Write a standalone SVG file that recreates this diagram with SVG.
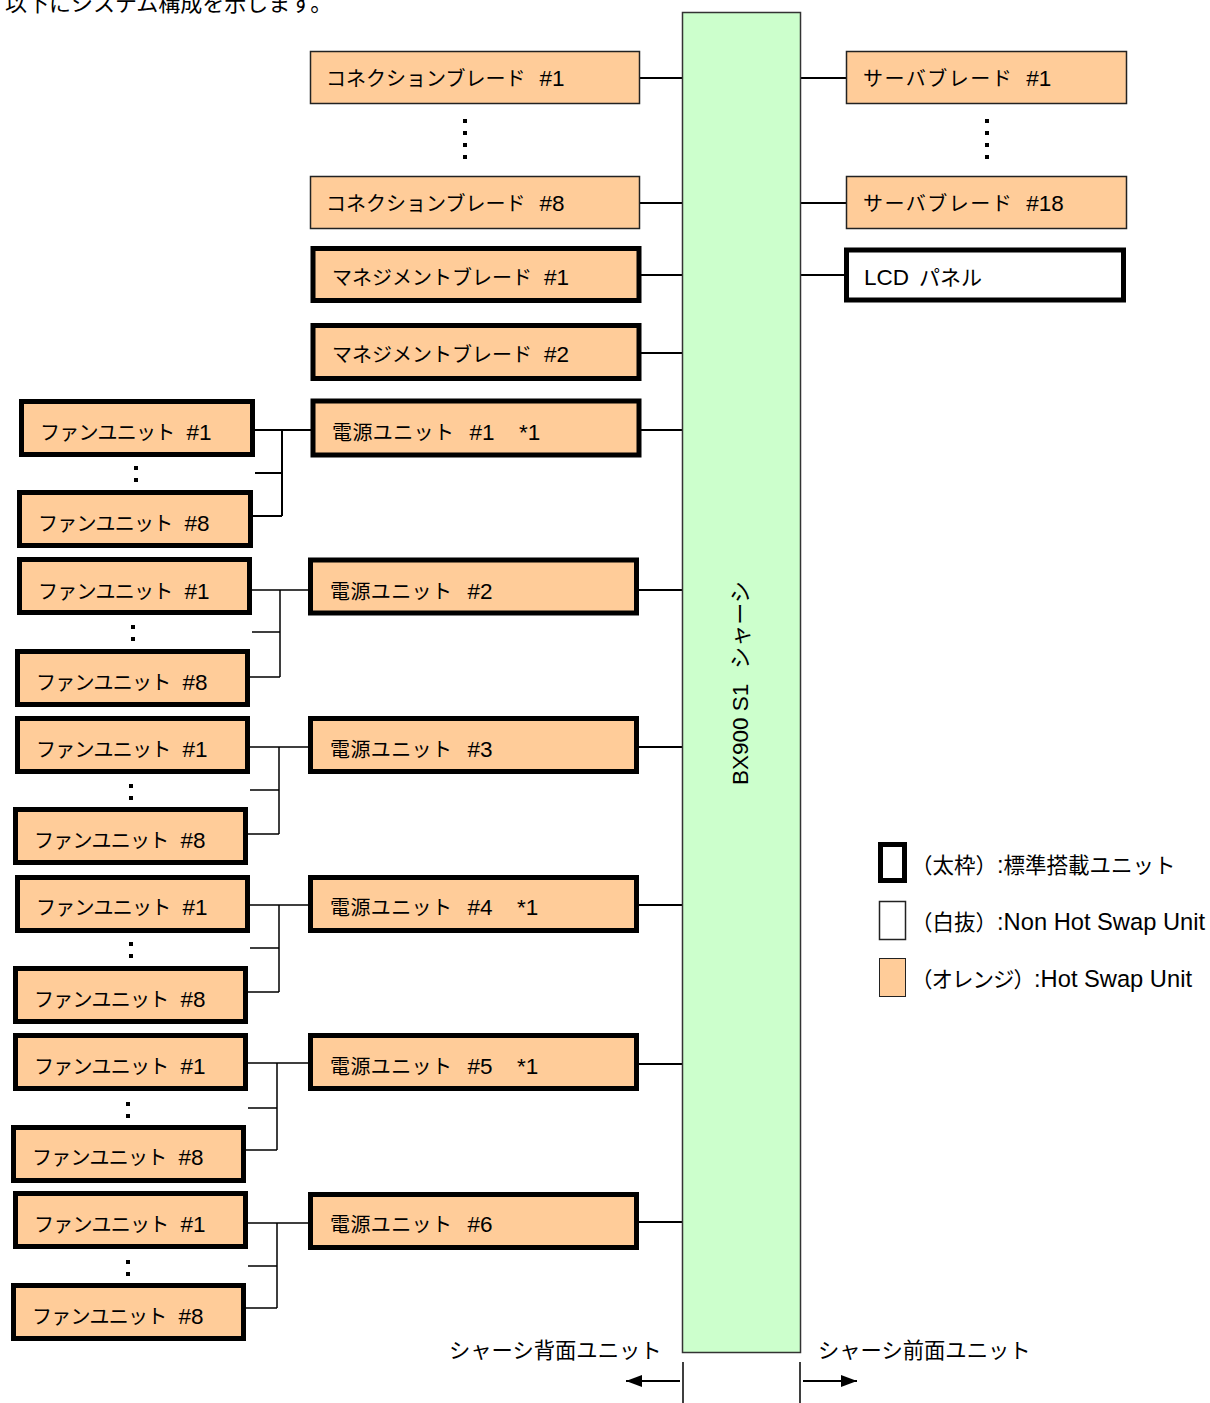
<svg xmlns="http://www.w3.org/2000/svg" width="1210" height="1403" viewBox="0 0 1210 1403">
<defs>
<style>
text{font-family:"Liberation Sans","Noto Sans CJK JP",sans-serif;font-size:22.5px;fill:#000}
.j{font-size:20px}
.f{font-size:20px;letter-spacing:-0.8px}
.s{font-size:20px;letter-spacing:1.5px}
.p{font-size:20px;letter-spacing:0.4px}
.t{font-size:22px}
.lg{font-size:23.7px}
.lj{font-size:21.5px}
.bl{font-size:21.3px}
.thin{fill:#ffcc99;stroke:#222;stroke-width:1.5}
.thick{fill:#ffcc99;stroke:#000;stroke-width:5}
.white{fill:#fff;stroke:#000;stroke-width:5}
.ln{stroke:#000;stroke-width:2;fill:none}
.ln1{stroke:#000;stroke-width:1.5;fill:none}
.dots{stroke:#000;stroke-width:4;stroke-dasharray:4 8;fill:none}
</style>
<marker id="ah2" viewBox="0 0 16 12" refX="16" refY="6" markerWidth="16" markerHeight="12" markerUnits="userSpaceOnUse" orient="auto">
<path d="M0,0 L16,6 L0,12 z" fill="#000"/>
</marker>
</defs>
<rect width="1210" height="1403" fill="#fff"/>
<text class="t" x="5" y="11">以下にシステム構成を示します。</text>

<g id="connectors">
<path class="ln" d="M639,78H682M639,203H682M639,275H682M639,353H682M639,430H682M637,590H682M637,747H682M637,905H682M637,1064H682M637,1222H682"/>
<path class="ln" d="M800,78H846M800,203H846M800,275H846"/>
<path class="ln" d="M255,430H313M282,430V516M255,473H282M253,516H282"/>
<path class="ln1" d="M252,590H310M280,590V677M252,632H280M250,677H280"/>
<path class="ln1" d="M250,747H310M279,747V834M250,790H279M248,834H279"/>
<path class="ln1" d="M250,905H310M279,905V992M250,948H279M248,992H279"/>
<path class="ln1" d="M248,1063H310M277,1063V1150M248,1108H277M246,1150H277"/>
<path class="ln1" d="M248,1223H310M277,1223V1308M248,1266H277M246,1308H277"/>
<path class="dots" d="M465,119V160M987,119V160"/>
<path class="dots" d="M136,466V494M133,625V653M131,784V812M131,942V970M128,1102V1130M128,1260V1288"/>
</g>

<g id="chassis">
<rect x="682.5" y="12.5" width="118" height="1340" fill="#ccffcc" stroke="#333" stroke-width="1.5"/>
<text transform="translate(748,785) rotate(-90)" font-size="24.5">BX900 S1<tspan dx="15" font-size="22">シャーシ</tspan></text>
</g>

<g id="conn1"><rect class="thin" x="310.5" y="51.5" width="329" height="52"/><text x="326" y="86"><tspan class="j">コネクションブレード</tspan><tspan dx="14">#1</tspan></text></g>
<g id="conn8"><rect class="thin" x="310.5" y="176.5" width="329" height="52"/><text x="326" y="211"><tspan class="j">コネクションブレード</tspan><tspan dx="14">#8</tspan></text></g>
<g id="mgmt1"><rect class="thick" x="313" y="248.5" width="326" height="52"/><text x="332" y="285"><tspan class="j">マネジメントブレード</tspan><tspan dx="12">#1</tspan></text></g>
<g id="mgmt2"><rect class="thick" x="313" y="325.5" width="326" height="53"/><text x="332" y="362"><tspan class="j">マネジメントブレード</tspan><tspan dx="12">#2</tspan></text></g>

<g id="srv1"><rect class="thin" x="846.5" y="51.5" width="280" height="52"/><text x="863" y="86"><tspan class="s">サーバブレード</tspan><tspan dx="13">#1</tspan></text></g>
<g id="srv18"><rect class="thin" x="846.5" y="176.5" width="280" height="52"/><text x="863" y="211"><tspan class="s">サーバブレード</tspan><tspan dx="13">#18</tspan></text></g>
<g id="lcd"><rect class="white" x="846.5" y="250" width="277" height="50"/><text x="864" y="285" font-size="24">LCD<tspan dx="10" font-size="21">パネル</tspan></text></g>

<g id="psu1"><rect class="thick" x="313" y="401" width="326" height="54"/><text x="332" y="440"><tspan class="p">電源ユニット</tspan><tspan dx="15">#1</tspan><tspan x="519">*1</tspan></text></g>
<g id="psu2"><rect class="thick" x="310.5" y="560" width="326" height="53"/><text x="330" y="599"><tspan class="p">電源ユニット</tspan><tspan dx="15">#2</tspan></text></g>
<g id="psu3"><rect class="thick" x="310.5" y="718.5" width="326" height="53"/><text x="330" y="757"><tspan class="p">電源ユニット</tspan><tspan dx="15">#3</tspan></text></g>
<g id="psu4"><rect class="thick" x="310.5" y="877.5" width="326" height="53"/><text x="330" y="915"><tspan class="p">電源ユニット</tspan><tspan dx="15">#4</tspan><tspan x="517">*1</tspan></text></g>
<g id="psu5"><rect class="thick" x="310.5" y="1035.5" width="326" height="53"/><text x="330" y="1074"><tspan class="p">電源ユニット</tspan><tspan dx="15">#5</tspan><tspan x="517">*1</tspan></text></g>
<g id="psu6"><rect class="thick" x="310.5" y="1194.5" width="326" height="53"/><text x="330" y="1232"><tspan class="p">電源ユニット</tspan><tspan dx="15">#6</tspan></text></g>

<g id="fan1a"><rect class="thick" x="21.5" y="401.5" width="231" height="53"/><text x="40" y="440"><tspan class="f">ファンユニット</tspan><tspan dx="12">#1</tspan></text></g>
<g id="fan1b"><rect class="thick" x="19.5" y="492.5" width="231" height="53"/><text x="38" y="531"><tspan class="f">ファンユニット</tspan><tspan dx="12">#8</tspan></text></g>
<g id="fan2a"><rect class="thick" x="19.5" y="559.5" width="230" height="53"/><text x="38" y="599"><tspan class="f">ファンユニット</tspan><tspan dx="12">#1</tspan></text></g>
<g id="fan2b"><rect class="thick" x="17.5" y="651.5" width="230" height="53"/><text x="36" y="690"><tspan class="f">ファンユニット</tspan><tspan dx="12">#8</tspan></text></g>
<g id="fan3a"><rect class="thick" x="17.5" y="718.5" width="230" height="53"/><text x="36" y="757"><tspan class="f">ファンユニット</tspan><tspan dx="12">#1</tspan></text></g>
<g id="fan3b"><rect class="thick" x="15.5" y="809.5" width="230" height="53"/><text x="34" y="848"><tspan class="f">ファンユニット</tspan><tspan dx="12">#8</tspan></text></g>
<g id="fan4a"><rect class="thick" x="17.5" y="877.5" width="230" height="53"/><text x="36" y="915"><tspan class="f">ファンユニット</tspan><tspan dx="12">#1</tspan></text></g>
<g id="fan4b"><rect class="thick" x="15.5" y="968.5" width="230" height="53"/><text x="34" y="1007"><tspan class="f">ファンユニット</tspan><tspan dx="12">#8</tspan></text></g>
<g id="fan5a"><rect class="thick" x="15.5" y="1035.5" width="230" height="53"/><text x="34" y="1074"><tspan class="f">ファンユニット</tspan><tspan dx="12">#1</tspan></text></g>
<g id="fan5b"><rect class="thick" x="13.5" y="1127.5" width="230" height="53"/><text x="32" y="1165"><tspan class="f">ファンユニット</tspan><tspan dx="12">#8</tspan></text></g>
<g id="fan6a"><rect class="thick" x="15.5" y="1193.5" width="230" height="53"/><text x="34" y="1232"><tspan class="f">ファンユニット</tspan><tspan dx="12">#1</tspan></text></g>
<g id="fan6b"><rect class="thick" x="13.5" y="1285.5" width="230" height="53"/><text x="32" y="1324"><tspan class="f">ファンユニット</tspan><tspan dx="12">#8</tspan></text></g>

<g id="legend">
<rect x="880.5" y="844.5" width="24" height="36" fill="#fff" stroke="#000" stroke-width="5"/>
<text class="lg" x="911" y="873"><tspan class="lj">（太枠）</tspan>:<tspan class="lj">標準搭載ユニット</tspan></text>
<rect x="879.5" y="901.5" width="26" height="38" fill="#fff" stroke="#222" stroke-width="1.5"/>
<text class="lg" x="911" y="930"><tspan class="lj">（白抜）</tspan>:Non Hot Swap Unit</text>
<rect x="879.5" y="958.5" width="26" height="38" fill="#ffcc99" stroke="#222" stroke-width="1"/>
<text class="lg" x="911" y="987"><tspan class="lj" letter-spacing="-1">（オレンジ）</tspan>:Hot Swap Unit</text>
</g>

<g id="sides">
<text class="bl" x="449" y="1358">シャーシ背面ユニット</text>
<text class="bl" x="818" y="1358">シャーシ前面ユニット</text>
<path class="ln1" d="M683,1362V1403M800,1362V1403"/>
<path class="ln" d="M680,1381H626" marker-end="url(#ah2)"/>
<path class="ln" d="M803,1381H857" marker-end="url(#ah2)"/>
</g>
</svg>
